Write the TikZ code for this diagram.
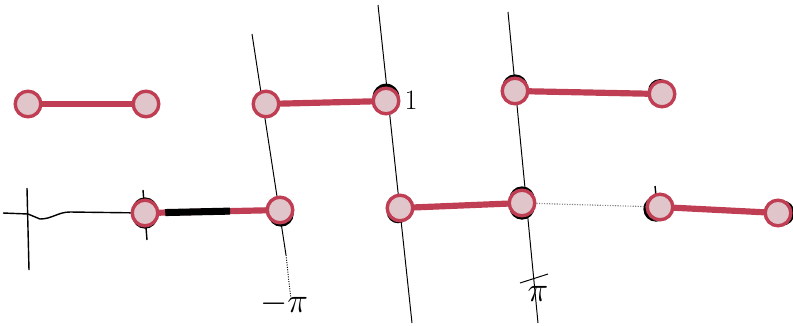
\documentclass[tikz,border=0pt]{standalone}
\usetikzlibrary{calc,backgrounds}
\definecolor{inkred}{RGB}{192,62,84}
\definecolor{ballfill}{RGB}{224,198,202}

\begin{document}
\begin{tikzpicture}[x=0.025cm,y=-0.025cm,
   ball/.style={circle,draw=inkred,line width=2.4pt,fill=ballfill,
      minimum size=0.64cm,inner sep=0pt},
   bar/.style={draw=inkred,line width=4.4pt,line cap=round},
   axis/.style={line width=0.7pt},
   inkblob/.style={fill=black},
   handtext/.style={inner sep=0pt,font=\fontsize{30}{32}\selectfont}
]
   \useasboundingbox (0,0) rectangle (793,325);

   % top row
   \foreach \n/\xa/\ya/\xb/\yb in {1/28/104/146/104,2/266/104/386/101,3/515/91/662/94} {
      \node[ball] (t\n a) at (\xa,\ya) {};
      \node[ball] (t\n b) at (\xb,\yb) {};
      \draw[bar] (t\n a) -- (t\n b);
   }
   % bottom row
   \foreach \n/\xa/\ya/\xb/\yb in {1/145/213/280/210,2/400/208/522/203,3/660/207/778/213} {
      \node[ball] (b\n a) at (\xa,\ya) {};
      \node[ball] (b\n b) at (\xb,\yb) {};
      \draw[bar] (b\n a) -- (b\n b);
   }
   \draw[line width=5pt] ($(b1a)!0.15!(b1b)$) -- ($(b1a)!0.63!(b1b)$);

   \coordinate (l0) at (3,213);
   \draw[line width=1pt] (l0) -- (28,214) -- (40,219) to[out=0,in=180] (70,212) -- (b1a);
   \draw[densely dotted,gray,line width=0.8pt] (b2b) -- (b3a);

   \node[inner sep=0pt,font=\fontsize{20}{22}\selectfont] (one) at (411,100) {1};
   \node[handtext] (mpi) at (284,304) {$-\pi$};
   \node[handtext] (ppi) at (538,294) {$\pi$};

   \begin{scope}[on background layer]
      % vertical lines
      \coordinate (a1) at (252,34);
      \coordinate (a2) at (286,255);
      \coordinate (a3) at (291,300);
      \draw[axis] (a1) -- (a2);
      \draw[axis,densely dotted] (a2) -- (a3);
      \coordinate (c1) at (378,5);
      \coordinate (c2) at (412,323);
      \draw[axis] (c1) -- (c2);
      \coordinate (d1) at (508,12);
      \coordinate (d2) at (538,323);
      \draw[axis] (d1) -- (d2);
      \coordinate (d3) at (520,283);
      \coordinate (d4) at (548,274);
      \draw[axis] (d3) -- (d4);
      % ticks
      \coordinate (k1) at (27,188);
      \coordinate (k2) at (29,270);
      \draw[line width=1pt] (k1) -- (k2);
      \coordinate (k3) at (143,190);
      \coordinate (k4) at (147,240);
      \draw[line width=1pt] (k3) -- (k4);
      \coordinate (k5) at (655,186);
      \coordinate (k6) at (657,205);
      \draw[line width=1pt] (k5) -- (k6);
      % black marks
      \fill[inkblob] ($(t2b)+(0,-4)$) circle (9.5pt);
      \fill[inkblob] ($(t3a)+(0,-4)$) circle (9pt);
      \fill[inkblob] ($(t3b)+(-2,-3)$) circle (8.5pt);
      \fill[inkblob] ($(b1a)+(0,-3)$) circle (9pt);
      \fill[inkblob] ($(b1a)+(0,3)$) circle (9pt);
      \fill[inkblob] ($(b1b)+(1,4)$) circle (9pt);
      \fill[inkblob] ($(b2a)+(-2,4)$) circle (8pt);
      \fill[inkblob] ($(b2b)+(0,-4)$) circle (9pt);
      \fill[inkblob] ($(b2b)+(0,4)$) circle (9pt);
      \fill[inkblob] ($(b3a)+(-4,2)$) circle (9pt);
      \fill[inkblob] ($(b3b)+(4,0)$) circle (9pt);
   \end{scope}
\end{tikzpicture}
\end{document}
